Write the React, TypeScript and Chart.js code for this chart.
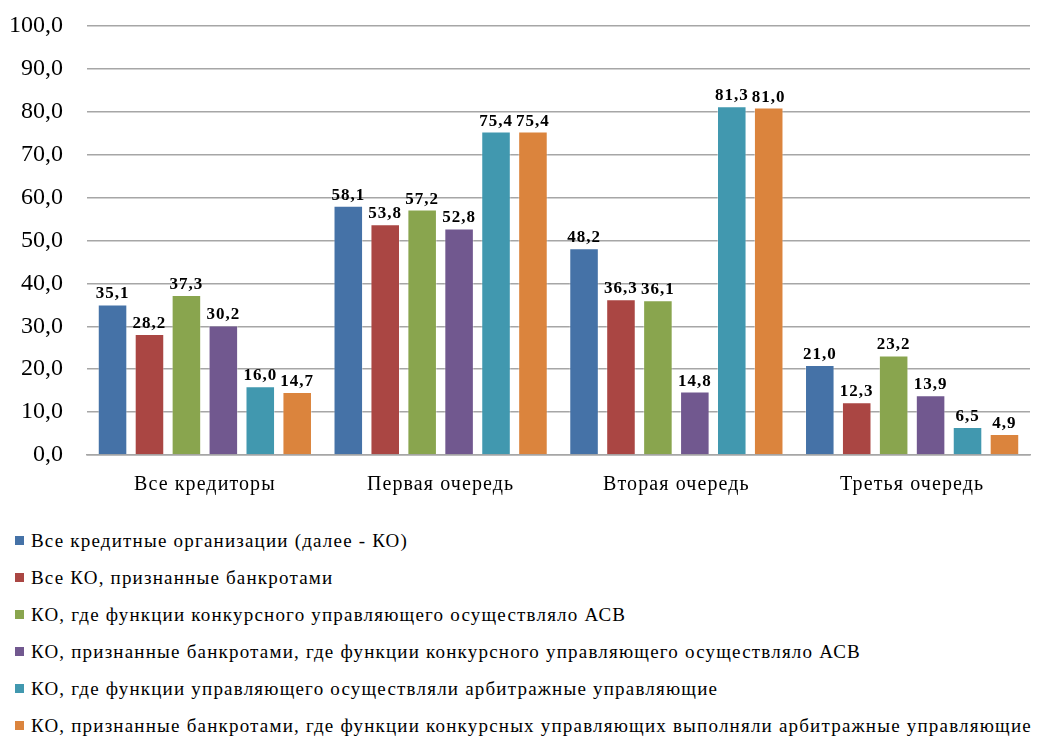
import React, { useEffect, useRef } from "react";
import { Chart, registerables } from "chart.js";

Chart.register(...registerables);

const categories = ["Все кредиторы", "Первая очередь", "Вторая очередь", "Третья очередь"];

const seriesNames = [
  "Все кредитные организации (далее - КО)",
  "Все КО, признанные банкротами",
  "КО, где функции конкурсного управляющего осуществляло АСВ",
  "КО, признанные банкротами, где функции конкурсного управляющего осуществляло АСВ",
  "КО, где функции управляющего осуществляли арбитражные управляющие",
  "КО, признанные банкротами, где функции конкурсных управляющих выполняли арбитражные управляющие",
];

const allKO = [35.1, 58.1, 48.2, 21.0];
const allBankrupt = [28.2, 53.8, 36.3, 12.3];
const asvKO = [37.3, 57.2, 36.1, 23.2];
const asvBankrupt = [30.2, 52.8, 14.8, 13.9];
const arbKO = [16.0, 75.4, 81.3, 6.5];
const arbBankrupt = [14.7, 75.4, 81.0, 4.9];

const seriesValues = [allKO, allBankrupt, asvKO, asvBankrupt, arbKO, arbBankrupt];
const seriesColors = ["#4572A7", "#AA4643", "#89A54E", "#71588F", "#4198AF", "#DB843D"];

const yTicks = [0, 10, 20, 30, 40, 50, 60, 70, 80, 90, 100];

const FONT = "Liberation Serif";
const fmt = (v: number) => v.toFixed(1).replace(".", ",");

const labelPlugin = {
  id: "barValueLabels",
  afterDatasetsDraw(chart: any) {
    const ctx = chart.ctx;
    ctx.save();
    ctx.font = `bold 17px "${FONT}"`;
    (ctx as any).letterSpacing = "1px";
    ctx.fillStyle = "#000";
    ctx.textAlign = "center";
    ctx.textBaseline = "alphabetic";
    chart.data.datasets.forEach((ds: any, i: number) => {
      const meta = chart.getDatasetMeta(i);
      meta.data.forEach((el: any, j: number) => {
        ctx.fillText(fmt(ds.data[j]), el.x, el.y - 6);
      });
    });
    ctx.restore();
  },
  afterDraw(chart: any) {
    const ctx = chart.ctx;
    const xs = chart.scales.x;
    ctx.save();
    ctx.font = `20px "${FONT}"`;
    (ctx as any).letterSpacing = "1.1px";
    ctx.fillStyle = "#000";
    ctx.textAlign = "center";
    ctx.textBaseline = "alphabetic";
    chart.data.labels.forEach((lab: string, i: number) => {
      ctx.fillText(lab, xs.getPixelForValue(i), 490);
    });
    ctx.restore();
  },
};

export default function App() {
  const ref = useRef<HTMLCanvasElement>(null);

  useEffect(() => {
    document.body.style.margin = "0";
    const chart = new Chart(ref.current!, {
      type: "bar",
      data: {
        labels: categories,
        datasets: seriesNames.map((name, i) => ({
          label: name,
          data: seriesValues[i],
          backgroundColor: seriesColors[i],
          borderColor: "rgba(255,255,255,0.35)",
          borderWidth: 1,
          categoryPercentage: 0.94,
          barPercentage: 0.8,
        })),
      },
      options: {
        responsive: false,
        animation: false,
        layout: { padding: { top: 26, right: 8, left: 0, bottom: 0 } },
        plugins: {
          legend: { display: false },
          tooltip: { enabled: false },
        },
        scales: {
          x: {
            grid: { display: false, drawTicks: false },
            border: { display: true, color: "#a6a6a6", width: 1.5 },
            ticks: { display: false },
            afterFit: (s: any) => {
              s.height = 45;
            },
          },
          y: {
            min: 0,
            max: 100,
            afterBuildTicks: (s: any) => {
              s.ticks = yTicks.map((v) => ({ value: v }));
            },
            grid: { color: "#a6a6a6", lineWidth: 1.5, drawTicks: false },
            border: { display: false },
            ticks: {
              color: "#000",
              font: { family: FONT, size: 24 },
              padding: 24,
              callback: (v: any) => fmt(Number(v)),
            },
            afterFit: (s: any) => {
              s.width = 87;
              s.paddingTop = 0;
              s.paddingBottom = 0;
            },
          },
        },
      },
      plugins: [labelPlugin],
    });
    return () => chart.destroy();
  }, []);

  return (
    <div style={{ position: "relative", width: 1038, height: 740, background: "#fff", fontFamily: `"${FONT}"` }}>
      <canvas ref={ref} width={1038} height={500} style={{ display: "block" }} />
      <div style={{ position: "absolute", left: 15, top: 522 }}>
        {seriesNames.map((name, i) => (
          <div
            key={name}
            style={{
              display: "flex",
              alignItems: "center",
              height: 37,
              fontSize: 19,
              letterSpacing: "1.2px",
              color: "#000",
              whiteSpace: "nowrap",
            }}
          >
            <span style={{ display: "inline-block", width: 9, height: 9, background: seriesColors[i], marginRight: 7 }} />
            <span>{name}</span>
          </div>
        ))}
      </div>
    </div>
  );
}
